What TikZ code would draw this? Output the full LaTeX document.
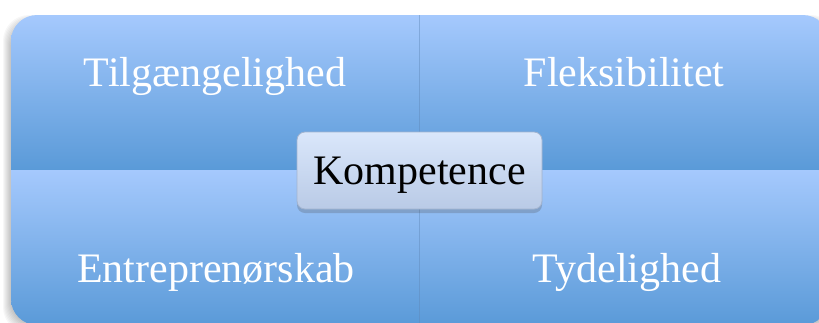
\documentclass[tikz,border=0pt]{standalone}
\usepackage{fontspec}
\setmainfont{Liberation Serif}
\usetikzlibrary{shadows}

\definecolor{quadtop}{HTML}{A5C9FD}
\definecolor{quadbot}{HTML}{5A9AD8}
\definecolor{hubtop}{HTML}{DAE7FB}
\definecolor{hubbot}{HTML}{B9CAE6}
\definecolor{hubline}{HTML}{A3B4CF}
\definecolor{seam}{HTML}{5F88B8}

\tikzset{
	quadfill/.style={top color=quadtop,bottom color=quadbot},
	quadtext/.style={text=white,anchor=base,font=\fontsize{42}{48}\selectfont},
	hub/.style={draw=hubline,line width=0.8pt,rounded corners=8pt,
		top color=hubtop,bottom color=hubbot,
		minimum width=245pt,minimum height=77pt,text depth=0pt,
		font=\fontsize{42}{48}\selectfont,
		drop shadow={shadow xshift=0pt,shadow yshift=-4pt,opacity=0.25,fill=black!70}}
}

\begin{document}
\begin{tikzpicture}[x=1pt,y=-1pt]
	\useasboundingbox (0,0) rectangle (819,322);
	% soft shadow of the matrix
	\foreach \s in {1,...,8}{
		\fill[black,opacity=0.03,rounded corners=26pt] (11-\s,23-\s) rectangle (829+\s,325+\s);
	}
	\begin{scope}
		\clip[rounded corners=26pt] (11,15) rectangle (829,325);
		\shade[quadfill] (11,15) rectangle (419,170);
		\shade[quadfill] (419,15) rectangle (829,170);
		\shade[quadfill] (11,170) rectangle (419,325);
		\shade[quadfill] (419,170) rectangle (829,325);
		\draw[seam,opacity=0.45,line width=1pt] (419,15) -- (419,325);
	\end{scope}
	\foreach \name/\x/\y/\label in {tl/215/86/Tilgængelighed, tr/624/86/Fleksibilitet,
		bl/216/282/Entreprenørskab, br/627/282/Tydelighed}{
		\node[quadtext] (\name) at (\x,\y) {\label};
	}
	\node[hub] (kompetence) at (419.5,170.5) {Kompetence};
\end{tikzpicture}
\end{document}
